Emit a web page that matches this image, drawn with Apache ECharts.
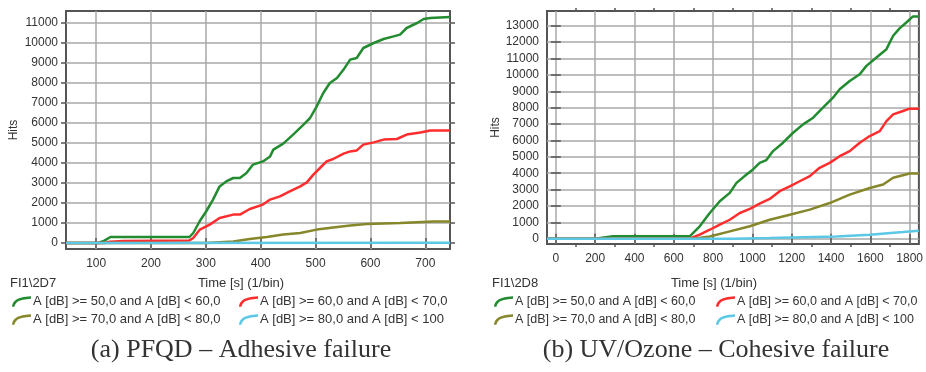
<!DOCTYPE html>
<html>
<head>
<meta charset="utf-8">
<script src="https://cdn.jsdelivr.net/npm/echarts@6/dist/echarts.min.js"></script>
<style>
  html, body { margin: 0; padding: 0; background: #fff; }
  #chart { width: 926px; height: 372px; }
</style>
</head>
<body>
<div id="chart"></div>
<script>
// legend names (same classes for both tests)
const classNames = [
  'A [dB] >= 50,0 and A [dB] < 60,0',
  'A [dB] >= 60,0 and A [dB] < 70,0',
  'A [dB] >= 70,0 and A [dB] < 80,0',
  'A [dB] >= 80,0 and A [dB] < 100'
];
const classColors = ['#238b30', '#ff2d2d', '#86862a', '#5cc8e6'];

// (a) PFQD - cumulative hits, [time s, hits]
const pfqd50 = [[45,0],[104,0],[115,120],[126,300],[270,300],[277,500],[289,1100],[301,1600],[313,2170],[325,2830],[337,3080],[350,3250],[362,3250],[374,3500],[386,3920],[404,4080],[417,4330],[423,4670],[441,4970],[459,5420],[478,5920],[490,6250],[502,6830],[514,7500],[526,8000],[539,8250],[551,8670],[563,9170],[575,9250],[587,9750],[606,10000],[624,10200],[642,10330],[654,10420],[666,10750],[685,11000],[697,11200],[709,11250],[745,11300]];
const pfqd60 = [[45,0],[115,0],[125,60],[150,100],[270,130],[277,250],[289,670],[307,920],[325,1250],[350,1420],[362,1420],[380,1700],[404,1920],[417,2170],[435,2330],[453,2580],[472,2830],[484,3030],[496,3420],[508,3750],[520,4080],[532,4200],[551,4470],[563,4580],[575,4630],[587,4920],[606,5030],[624,5170],[648,5200],[666,5420],[691,5530],[709,5620],[745,5620]];
const pfqd70 = [[45,0],[300,0],[350,80],[380,200],[411,300],[441,420],[472,500],[502,670],[532,780],[563,870],[593,950],[654,1000],[715,1080],[745,1080]];
const pfqd80 = [[45,0],[745,10]];

// (b) UV/Ozone
const uvo50 = [[-45,0],[200,0],[290,150],[681,150],[732,760],[783,1570],[834,2290],[885,2800],[919,3410],[970,3920],[1003,4230],[1037,4630],[1071,4800],[1105,5350],[1156,5860],[1207,6470],[1258,6980],[1309,7390],[1359,8000],[1410,8610],[1444,9120],[1495,9630],[1546,10040],[1580,10550],[1631,11060],[1682,11570],[1716,12390],[1749,12840],[1783,13200],[1817,13570],[1847,13570]];
const uvo60 = [[-45,0],[680,0],[732,250],[783,550],[834,860],[885,1160],[936,1570],[987,1820],[1037,2140],[1088,2430],[1139,2900],[1190,3200],[1241,3510],[1292,3820],[1342,4330],[1393,4630],[1444,5040],[1495,5350],[1546,5860],[1597,6270],[1648,6570],[1682,7180],[1716,7590],[1766,7800],[1800,7940],[1847,7940]];
const uvo70 = [[-45,0],[700,0],[783,140],[885,450],[987,760],[1088,1160],[1190,1470],[1292,1780],[1393,2180],[1495,2690],[1597,3100],[1665,3310],[1716,3720],[1800,3980],[1847,3980]];
const uvo80 = [[-45,0],[900,0],[1088,40],[1427,140],[1597,250],[1766,410],[1847,490]];

// tick labels
const xTicksA = [100, 200, 300, 400, 500, 600, 700];
const yTicksA = [0, 1000, 2000, 3000, 4000, 5000, 6000, 7000, 8000, 9000, 10000, 11000];
const xTicksB = [0, 200, 400, 600, 800, 1000, 1200, 1400, 1600, 1800];
const xMinorB = [100, 300, 500, 700, 900, 1100, 1300, 1500, 1700];
const yTicksB = [0, 1000, 2000, 3000, 4000, 5000, 6000, 7000, 8000, 9000, 10000, 11000, 12000, 13000];

const chart = echarts.init(document.getElementById('chart'));
const font = 'Liberation Sans, Arial, sans-serif';
const gridLine = { show: true, lineStyle: { color: '#a9a9a9', width: 1.5 } };
const tickStyle = { color: '#555', width: 1.5 };
const plain = v => String(v);

function xAxis(gridIndex, pos, min, max, ticks, labels, split, len) {
  return {
    type: 'value', gridIndex, position: pos, min, max,
    axisLine: { show: false },
    axisTick: { show: true, length: len || 5, customValues: ticks, lineStyle: tickStyle },
    axisLabel: { show: labels, customValues: ticks, formatter: plain, margin: 9, color: '#333', fontSize: 12, fontFamily: font },
    splitLine: split ? gridLine : { show: false }
  };
}
function yAxis(gridIndex, pos, min, max, ticks, labels, split) {
  return {
    type: 'value', gridIndex, position: pos, min, max,
    axisLine: { show: false },
    axisTick: { show: true, length: 5, customValues: ticks, lineStyle: tickStyle },
    axisLabel: { show: labels, customValues: ticks, formatter: plain, margin: 8, color: '#333', fontSize: 12, fontFamily: font },
    splitLine: split ? gridLine : { show: false }
  };
}

const seriesList = [];
[pfqd50, pfqd60, pfqd70, pfqd80].forEach((d, i) => {
  seriesList.push({ name: classNames[i], type: 'line', xAxisIndex: 0, yAxisIndex: 0, data: d,
    showSymbol: false, lineStyle: { width: 2.5, color: classColors[i] }, itemStyle: { color: classColors[i] } });
});
[uvo50, uvo60, uvo70, uvo80].forEach((d, i) => {
  seriesList.push({ name: classNames[i], type: 'line', xAxisIndex: 2, yAxisIndex: 2, data: d,
    showSymbol: false, lineStyle: { width: 2.5, color: classColors[i] }, itemStyle: { color: classColors[i] } });
});

const legendIcon = 'path://M0,12 C1,6 4,2 20,1 L20,3.5 C6,4.5 4,7 2.5,12 Z';
function legend(left, top, names, size) {
  return {
    left, top, orient: 'vertical', padding: 0, itemWidth: 19, itemHeight: 11, itemGap: 5,
    icon: legendIcon, data: names, selectedMode: false,
    textStyle: { color: '#333', fontSize: size, fontFamily: font, padding: [0, 0, 0, -3] }
  };
}

function label(x, y, text, size, family, align) {
  return { type: 'text', x, y, style: { text, fill: '#333', font: size + 'px ' + family,
    textAlign: align || 'center', textVerticalAlign: 'middle' } };
}

chart.setOption({
  animation: false,
  backgroundColor: '#fff',
  grid: [
    { left: 66, top: 11, width: 384, height: 238, show: true, borderColor: '#555', borderWidth: 2, backgroundColor: '#fff' },
    { left: 547, top: 11, width: 372, height: 233, show: true, borderColor: '#555', borderWidth: 2, backgroundColor: '#fff' }
  ],
  xAxis: [
    xAxis(0, 'bottom', 45, 745, xTicksA, true, true),
    xAxis(0, 'top', 45, 745, xTicksA, false, false),
    xAxis(1, 'bottom', -45, 1847, xTicksB, true, true),
    xAxis(1, 'top', -45, 1847, xTicksB, false, false),
    xAxis(1, 'bottom', -45, 1847, xMinorB, false, false, 3),
    xAxis(1, 'top', -45, 1847, xMinorB, false, false, 3)
  ],
  yAxis: [
    Object.assign(yAxis(0, 'left', -300, 11600, yTicksA, true, true),
      { name: 'Hits', nameLocation: 'middle', nameGap: 46, nameTextStyle: { color: '#333', fontSize: 12, fontFamily: font } }),
    yAxis(0, 'right', -300, 11600, yTicksA, false, false),
    Object.assign(yAxis(1, 'left', -320, 13900, yTicksB, true, true),
      { name: 'Hits', nameLocation: 'middle', nameGap: 42, nameTextStyle: { color: '#333', fontSize: 12, fontFamily: font } }),
    yAxis(1, 'right', -320, 13900, yTicksB, false, false)
  ],
  legend: [
    legend(12, 295, [classNames[0], classNames[2]], 13),
    legend(239, 295, [classNames[1], classNames[3]], 13),
    legend(494, 295, [classNames[0], classNames[2]], 12.5),
    legend(716, 295, [classNames[1], classNames[3]], 12.5)
  ],
  graphic: [
    label(241, 283, 'Time [s] (1/bin)', 13, font),
    label(10, 283, 'FI1\\2D7', 13, font, 'left'),
    label(714, 283, 'Time [s] (1/bin)', 13, font),
    label(492, 283, 'FI1\\2D8', 13, font, 'left'),
    label(241, 350, '(a) PFQD \u2013 Adhesive failure', 26, 'Liberation Serif, Times New Roman, serif'),
    label(716, 350, '(b) UV/Ozone \u2013 Cohesive failure', 26, 'Liberation Serif, Times New Roman, serif')
  ],
  series: seriesList
});
</script>
</body>
</html>
